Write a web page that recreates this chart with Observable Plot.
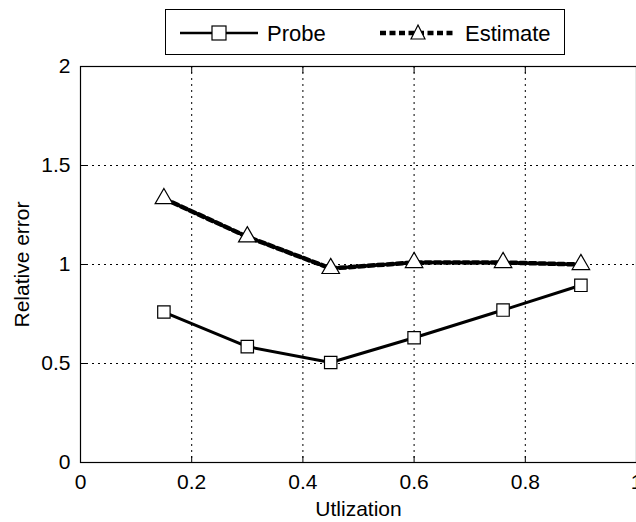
<!DOCTYPE html>
<html><head><meta charset="utf-8">
<script src="https://cdn.jsdelivr.net/npm/d3@7"></script>
<script src="https://cdn.jsdelivr.net/npm/@observablehq/plot@0.6"></script>
<style>
body{margin:0;background:#fff;font-family:"Liberation Sans",Arial,sans-serif;}
#wrap{position:relative;width:636px;height:522px;overflow:hidden;}
#legend{position:absolute;left:165px;top:9px;width:400px;height:46px;border:1px solid #000;background:#fff;box-sizing:border-box;}
#legend svg{position:absolute;left:0;top:0;}
</style></head><body>
<div id="wrap"><div id="legend"></div></div>
<script>
const utilization = [0.15, 0.3, 0.45, 0.6, 0.76, 0.9];
const probe = [0.76, 0.585, 0.505, 0.63, 0.77, 0.895];
const estimate = [1.333, 1.14, 0.98, 1.01, 1.01, 1.0];
const xTicks = [0, 0.2, 0.4, 0.6, 0.8, 1];
const yTicks = [0, 0.5, 1, 1.5, 2];
const xTickLabels = ["0", "0.2", "0.4", "0.6", "0.8", "1"];
const yTickLabels = ["0", "0.5", "1", "1.5", "2"];
const xTitle = "Utlization";
const yTitle = "Relative error";

const probeData = utilization.map((u, i) => ({u, v: probe[i]}));
const estData = utilization.map((u, i) => ({u, v: estimate[i]}));

const chart = Plot.plot({
  width: 636, height: 522,
  marginLeft: 80, marginRight: 0, marginTop: 66, marginBottom: 60,
  style: {fontFamily: '"Liberation Sans", Arial, sans-serif', fontSize: "21px", color: "#000", background: "#fff", overflow: "hidden"},
  x: {domain: [0, 1], range: [80, 636], label: null},
  y: {domain: [0, 2], label: null},
  marks: [
    Plot.gridX(xTicks.slice(1, -1), {stroke: "#000", strokeOpacity: 1, strokeWidth: 1, strokeDasharray: "2,4"}),
    Plot.gridY(yTicks.slice(1, -1), {stroke: "#000", strokeOpacity: 1, strokeWidth: 1, strokeDasharray: "2,4"}),
    Plot.frame({stroke: "#000", strokeWidth: 1.2}),
    Plot.axisX(xTicks, {tickSize: -6, text: null, label: null, stroke: "#000"}),
    Plot.axisX(xTicks, {anchor: "top", tickSize: -6, text: null, label: null, stroke: "#000"}),
    Plot.axisY(yTicks, {tickSize: -6, text: null, label: null, stroke: "#000"}),
    Plot.axisX(xTicks, {tickSize: 0, tickPadding: 12, fontSize: 21, tickFormat: (d, i) => xTickLabels[i], label: xTitle, labelAnchor: "center", labelArrow: "none", labelOffset: 53}),
    Plot.axisY(yTicks, {tickSize: 0, tickPadding: 10, fontSize: 21, tickFormat: (d, i) => yTickLabels[i], label: yTitle, labelAnchor: "center", labelArrow: "none", labelOffset: 66}),
    Plot.line(estData, {x: "u", y: "v", stroke: "#000", strokeWidth: 4.5, strokeDasharray: "6,3.5"}),
    Plot.line(probeData, {x: "u", y: "v", stroke: "#000", strokeWidth: 3}),
    Plot.dot(estData, {x: "u", y: "v", symbol: "triangle", r: 6.5, fill: "#fff", stroke: "#000", strokeWidth: 1.2}),
    Plot.dot(probeData, {x: "u", y: "v", symbol: "square", r: 7, fill: "#fff", stroke: "#000", strokeWidth: 1.2})
  ]
});
document.getElementById("wrap").prepend(chart);
chart.style.position = "absolute"; chart.style.left = "0"; chart.style.top = "0";
d3.select(chart).selectAll("text").each(function() {
  this.setAttribute("font-size", 21);
  this.style.fontSize = "21px";
});

const leg = d3.select("#legend").append("svg").attr("width", 400).attr("height", 46);
leg.append("line").attr("x1", 14).attr("x2", 92).attr("y1", 23).attr("y2", 23).attr("stroke", "#000").attr("stroke-width", 2.5);
leg.append("rect").attr("x", 46).attr("y", 16).attr("width", 14).attr("height", 14).attr("fill", "#fff").attr("stroke", "#000").attr("stroke-width", 1.2);
leg.append("text").attr("x", 101).attr("y", 31).text("Probe").style("font-size", "22px").style("font-family", '"Liberation Sans", Arial, sans-serif');
leg.append("line").attr("x1", 214).attr("x2", 290).attr("y1", 23).attr("y2", 23).attr("stroke", "#000").attr("stroke-width", 4.5).attr("stroke-dasharray", "6,3.5");
leg.append("path").attr("d", "M252,15 L259,29 L245,29 Z").attr("fill", "#fff").attr("stroke", "#000").attr("stroke-width", 1.2);
leg.append("text").attr("x", 299).attr("y", 31).text("Estimate").style("font-size", "22px").style("font-family", '"Liberation Sans", Arial, sans-serif');
</script>
</body></html>
